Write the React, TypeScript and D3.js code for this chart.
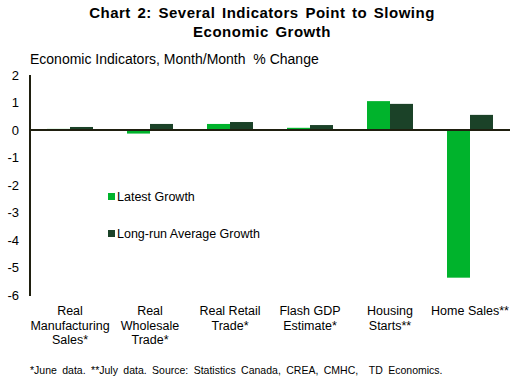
import React, { useEffect, useRef } from 'react'
import * as d3 from 'd3'

const categories = [
  ['Real', 'Manufacturing', 'Sales*'],
  ['Real', 'Wholesale', 'Trade*'],
  ['Real Retail', 'Trade*'],
  ['Flash GDP', 'Estimate*'],
  ['Housing', 'Starts**'],
  ['Home Sales**'],
]
const latestGrowth = [0.04, -0.13, 0.22, 0.08, 1.05, -5.37]
const longRunGrowth = [0.11, 0.22, 0.29, 0.18, 0.95, 0.55]
const seriesNames = ['Latest Growth', 'Long-run Average Growth']
const yTicks = [2, 1, 0, -1, -2, -3, -4, -5, -6]

const colors = ['#00b32c', '#1b4228']
const font = 'Arial, "Liberation Sans", sans-serif'

export default function App() {
  const ref = useRef<SVGSVGElement>(null)

  useEffect(() => {
    const svg = d3.select(ref.current)
    svg.selectAll('*').remove()
    const width = 515
    const margin = { left: 30, right: 5, top: 75, bottom: 88 }
    const plotW = width - margin.left - margin.right

    const x = d3.scaleBand<number>()
      .domain(d3.range(categories.length))
      .range([margin.left, margin.left + plotW])
    const y = d3.scaleLinear().domain([2, -6]).range([75, 295])

    // title
    const title = svg.append('text')
      .attr('text-anchor', 'middle')
      .attr('font-family', font)
      .attr('font-weight', 'bold')
      .attr('font-size', 15)
      .attr('letter-spacing', 0.5)
      .attr('word-spacing', 2)
      .attr('fill', '#000')
    title.append('tspan').attr('x', 262).attr('y', 18).text('Chart 2: Several Indicators Point to Slowing')
    title.append('tspan').attr('x', 262).attr('y', 37).text('Economic Growth')

    svg.append('text')
      .attr('x', 30).attr('y', 64)
      .attr('font-family', font).attr('font-size', 14)
      .style('white-space', 'pre')
      .text('Economic Indicators, Month/Month  % Change')

    // y tick labels
    svg.selectAll('text.ytick')
      .data(yTicks)
      .enter()
      .append('text')
      .attr('class', 'ytick')
      .attr('x', 19)
      .attr('y', d => y(d) + 4.5)
      .attr('text-anchor', 'end')
      .attr('font-family', font)
      .attr('font-size', 13)
      .text(d => d)

    // bars
    const barW = 23
    const series = [latestGrowth, longRunGrowth]
    series.forEach((vals, s) => {
      svg.selectAll(`rect.s${s}`)
        .data(vals)
        .enter()
        .append('rect')
        .attr('class', `s${s}`)
        .attr('x', (d, i) => x(i)! + x.bandwidth() / 2 - barW + s * barW)
        .attr('y', d => y(Math.max(0, d)))
        .attr('width', barW)
        .attr('height', d => Math.abs(y(d) - y(0)))
        .attr('fill', colors[s])
    })

    // axes
    svg.append('line')
      .attr('x1', 30).attr('x2', 30)
      .attr('y1', y(2)).attr('y2', y(-6) + 1)
      .attr('stroke', '#1f1f0f').attr('stroke-width', 2)
    svg.append('line')
      .attr('x1', 30).attr('x2', margin.left + plotW)
      .attr('y1', y(0)).attr('y2', y(0))
      .attr('stroke', '#1f1f0f').attr('stroke-width', 2)

    // category labels
    categories.forEach((lines, i) => {
      const t = svg.append('text')
        .attr('text-anchor', 'middle')
        .attr('font-family', font)
        .attr('font-size', 12.5)
      lines.forEach((l, j) => {
        t.append('tspan')
          .attr('x', x(i)! + x.bandwidth() / 2)
          .attr('y', 315 + j * 14.5)
          .text(l)
      })
    })

    // legend
    seriesNames.forEach((name, s) => {
      const ly = 196 + s * 37
      svg.append('rect')
        .attr('x', 108).attr('y', ly - 3)
        .attr('width', 7).attr('height', 7)
        .attr('fill', colors[s])
      svg.append('text')
        .attr('x', 117).attr('y', ly + 4.5)
        .attr('font-family', font).attr('font-size', 12.5)
        .text(name)
    })

    // footnote
    svg.append('text')
      .attr('x', 30).attr('y', 374)
      .attr('font-family', font).attr('font-size', 10.5)
      .attr('word-spacing', 2.5)
      .style('white-space', 'pre')
      .text('*June data. **July data. Source: Statistics Canada, CREA, CMHC,  TD Economics.')
  }, [])

  return (
    <svg ref={ref} width={515} height={384}
      style={{ position: 'absolute', left: 0, top: 0, background: '#fff' }} />
  )
}
